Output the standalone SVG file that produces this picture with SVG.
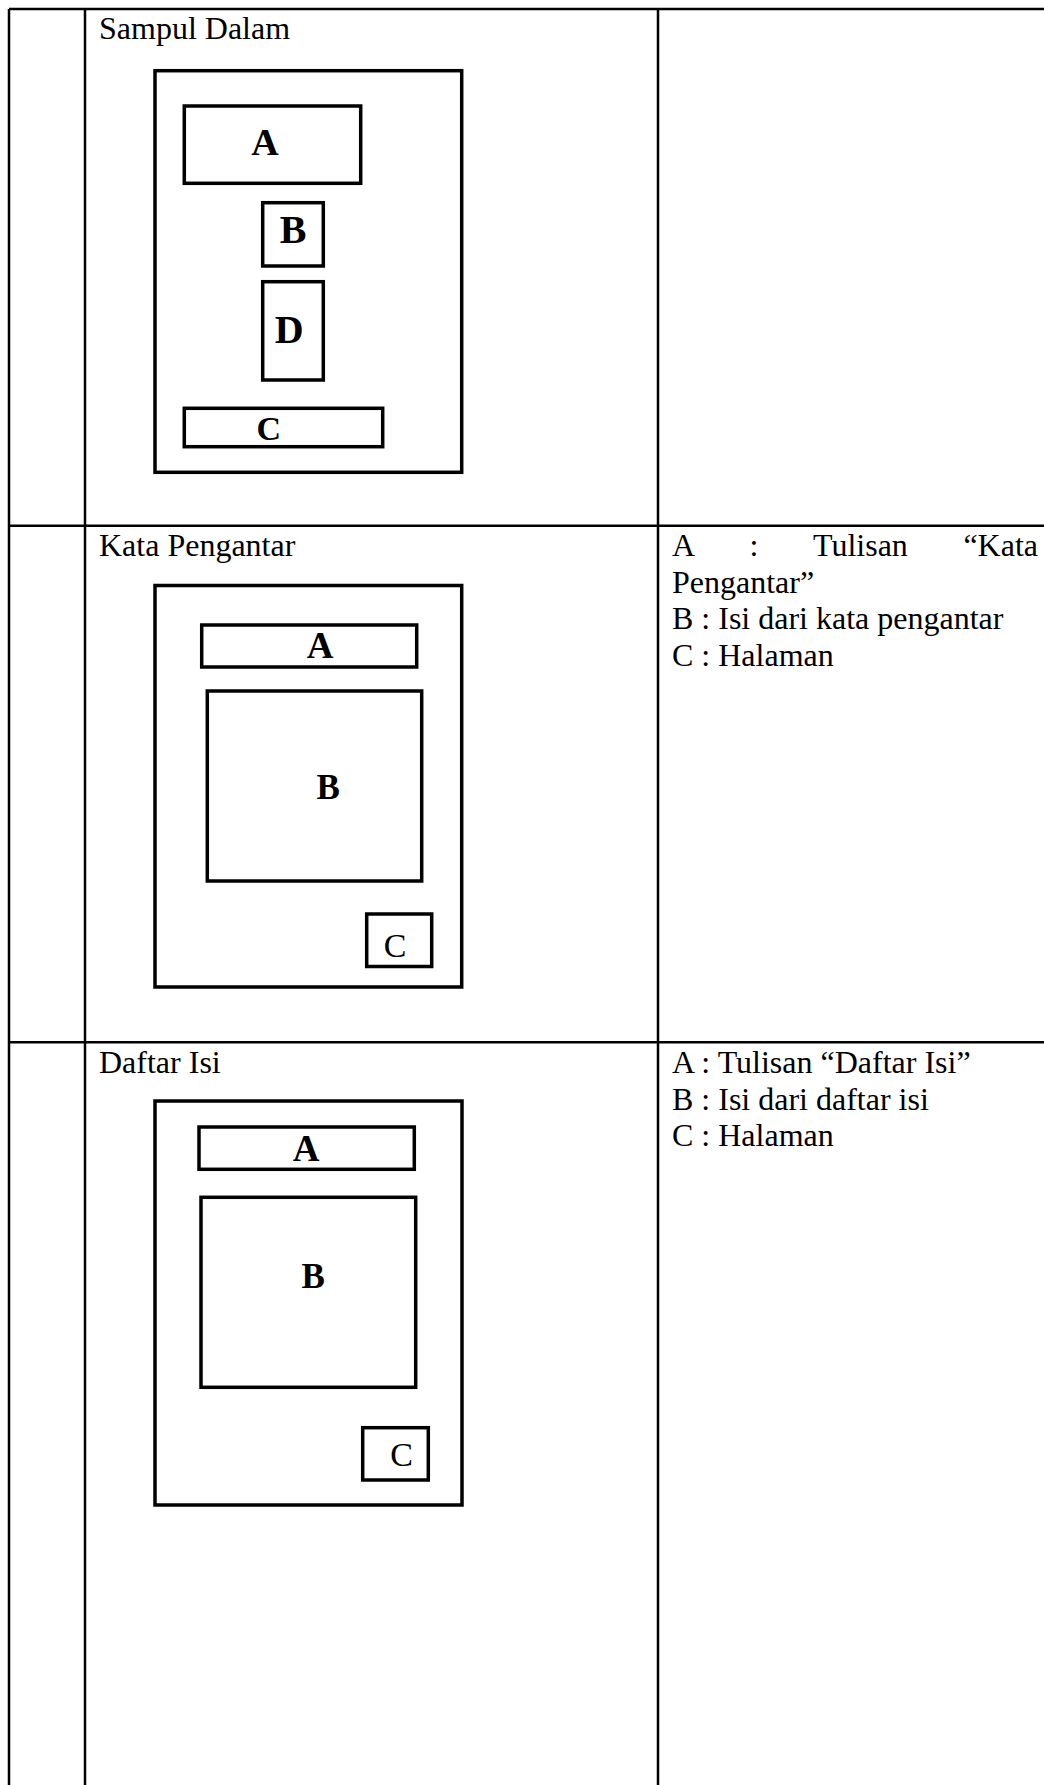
<svg xmlns="http://www.w3.org/2000/svg" width="1044" height="1785" viewBox="0 0 1044 1785">
  <style>
    .grid { stroke: #000; stroke-width: 2.5; fill: none; }
    .page { stroke: #000; stroke-width: 3.5; fill: #fff; }
    .part { stroke: #000; stroke-width: 3.5; fill: #fff; }
    .txt { font-family: "Liberation Serif", "Times New Roman", serif; font-size: 32px; fill: #000; }
    .lbl { font-family: "Liberation Serif", "Times New Roman", serif; font-weight: bold; fill: #000; text-anchor: middle; }
    .lbl-r { font-family: "Liberation Serif", "Times New Roman", serif; font-weight: normal; fill: #000; text-anchor: middle; font-size: 34px; }
  </style>

  <rect x="0" y="0" width="1044" height="1785" fill="#fff"/>

  <!-- table grid -->
  <g id="table-grid" class="grid">
    <line x1="9" y1="9" x2="1044" y2="9"/>
    <line x1="9" y1="525.7" x2="1044" y2="525.7"/>
    <line x1="9" y1="1042.3" x2="1044" y2="1042.3"/>
    <line x1="9" y1="9" x2="9" y2="1785"/>
    <line x1="85" y1="9" x2="85" y2="1785"/>
    <line x1="658" y1="9" x2="658" y2="1785"/>
  </g>

  <!-- row 1: Sampul Dalam -->
  <g id="row-sampul-dalam">
    <text class="txt" x="99" y="39">Sampul Dalam</text>
    <g id="sampul-page">
      <rect class="page" x="155" y="70.7" width="306.7" height="401.6"/>
    </g>
    <g id="sampul-a">
      <rect class="part" x="184.3" y="106" width="176.4" height="77.3"/>
      <text class="lbl" x="265" y="155" font-size="38">A</text>
    </g>
    <g id="sampul-b">
      <rect class="part" x="262.7" y="202.7" width="60.6" height="63.3"/>
      <text class="lbl" x="293" y="243.3" font-size="40">B</text>
    </g>
    <g id="sampul-d">
      <rect class="part" x="262.7" y="281.7" width="60.6" height="98.3"/>
      <text class="lbl" x="289.3" y="343.3" font-size="40">D</text>
    </g>
    <g id="sampul-c">
      <rect class="part" x="184.3" y="408.3" width="198.4" height="38.4"/>
      <text class="lbl" x="268.7" y="440" font-size="34">C</text>
    </g>
  </g>

  <!-- row 2: Kata Pengantar -->
  <g id="row-kata-pengantar">
    <text class="txt" x="99" y="555.7">Kata Pengantar</text>
    <g id="kp-page">
      <rect class="page" x="155" y="585.5" width="306.7" height="401.5"/>
    </g>
    <g id="kp-a">
      <rect class="part" x="201.7" y="625" width="215" height="42"/>
      <text class="lbl" x="320" y="657.7" font-size="37">A</text>
    </g>
    <g id="kp-b">
      <rect class="part" x="207.3" y="691" width="214.4" height="190"/>
      <text class="lbl" x="328.3" y="798.8" font-size="35">B</text>
    </g>
    <g id="kp-c">
      <rect class="part" x="366.7" y="914" width="65" height="52.5"/>
      <text class="lbl-r" x="395" y="956.8">C</text>
    </g>
    <g id="kp-legend" class="txt">
      <text x="672" y="555.7">A</text>
      <text x="749.6" y="555.7">:</text>
      <text x="813" y="555.7">Tulisan</text>
      <text x="1038" y="555.7" text-anchor="end">“Kata</text>
      <text x="672" y="592.5">Pengantar”</text>
      <text x="672" y="629.3">B : Isi dari kata pengantar</text>
      <text x="672" y="666.1">C : Halaman</text>
    </g>
  </g>

  <!-- row 3: Daftar Isi -->
  <g id="row-daftar-isi">
    <text class="txt" x="99" y="1072.7">Daftar Isi</text>
    <g id="di-page">
      <rect class="page" x="155" y="1101" width="307" height="404"/>
    </g>
    <g id="di-a">
      <rect class="part" x="199" y="1127" width="215.3" height="42.3"/>
      <text class="lbl" x="306" y="1160.7" font-size="37">A</text>
    </g>
    <g id="di-b">
      <rect class="part" x="201" y="1197.3" width="214.7" height="190"/>
      <text class="lbl" x="313.3" y="1288.3" font-size="35">B</text>
    </g>
    <g id="di-c">
      <rect class="part" x="362.7" y="1427.7" width="65.6" height="52.3"/>
      <text class="lbl-r" x="401.7" y="1465.7">C</text>
    </g>
    <g id="di-legend" class="txt">
      <text x="672" y="1072.7">A : Tulisan “Daftar Isi”</text>
      <text x="672" y="1109.5">B : Isi dari daftar isi</text>
      <text x="672" y="1146.3">C : Halaman</text>
    </g>
  </g>
</svg>
